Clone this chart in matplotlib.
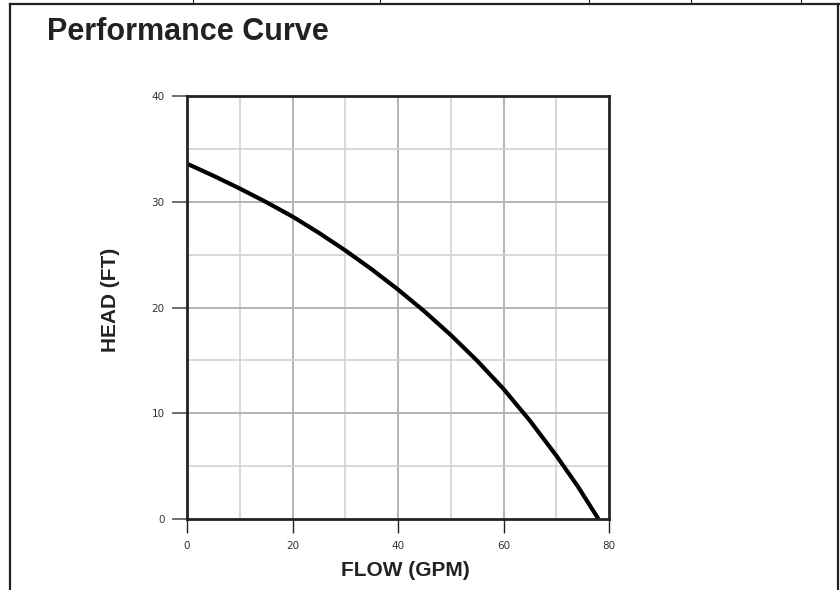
import matplotlib
matplotlib.use('Agg')
import matplotlib.pyplot as plt
from matplotlib.lines import Line2D

plt.rcParams['font.family'] = ['Liberation Sans', 'DejaVu Sans']

# Performance curve
flow_gpm = [0, 5, 10, 15, 20, 25, 30, 35, 40, 45, 50, 55, 60, 65, 70, 74, 78]
head_ft = [33.6, 32.46, 31.25, 29.97, 28.6, 27.06, 25.4, 23.62, 21.7, 19.64,
           17.4, 14.97, 12.3, 9.3, 6.0, 3.15, 0.0]

x_major = [0, 20, 40, 60, 80]
x_minor = [10, 30, 50, 70]
y_major = [0, 10, 20, 30, 40]
y_minor = [5, 15, 25, 35]

W, H = 840, 590
fig = plt.figure(figsize=(W / 100, H / 100), dpi=100)
ax = fig.add_axes([187 / W, 1 - 519 / H, (609 - 187) / W, (519 - 96) / H])

# grid first so the curve sits on top
for x in x_minor:
    ax.axvline(x, color='#d2d2d2', lw=1.2, zorder=1)
for x in x_major[1:-1]:
    ax.axvline(x, color='#b4b4b4', lw=1.4, zorder=1)
for y in y_minor:
    ax.axhline(y, color='#d2d2d2', lw=1.2, zorder=1)
for y in y_major[1:-1]:
    ax.axhline(y, color='#b4b4b4', lw=1.4, zorder=1)

ax.plot(flow_gpm, head_ft, color='black', lw=3.0, solid_capstyle='butt',
        solid_joinstyle='round', zorder=3)

ax.set_xlim(0, 80)
ax.set_ylim(0, 40)
ax.set_xticks(x_major)
ax.set_yticks(y_major)
ax.tick_params(axis='x', length=10, width=1, color='#222', pad=6,
               labelsize=7.5, labelcolor='#333')
ax.tick_params(axis='y', length=11, width=1.2, color='#555', pad=5,
               labelsize=7.5, labelcolor='#333')
for lab in ax.get_xticklabels() + ax.get_yticklabels():
    lab.set_fontfamily(['DejaVu Sans'])

for s in ax.spines.values():
    s.set_color('#222')
    s.set_linewidth(2.0)
    s.set_zorder(4)

# axis titles placed in figure pixels
fig.text(405 / W, 1 - 571 / H, 'FLOW (GPM)', fontsize=15, fontweight='bold',
         color='#222', ha='center', va='center')
fig.text(111 / W, 1 - 300 / H, 'HEAD (FT)', fontsize=15, fontweight='bold',
         color='#222', ha='center', va='center', rotation=90)

fig.text(47 / W, 1 - 40 / H, 'Performance Curve', fontsize=22, fontweight='bold',
         color='#222', ha='left', va='baseline')

# outer frame of the page
frame_kw = dict(color='#222', lw=1.6, transform=fig.transFigure)
fig.add_artist(Line2D([10 / W, 10 / W], [0, 1 - 4 / H], **frame_kw))
fig.add_artist(Line2D([10 / W, 1], [1 - 4 / H, 1 - 4 / H], **frame_kw))
fig.add_artist(Line2D([838 / W, 838 / W], [0, 1 - 4 / H], **frame_kw))
for xp in [193, 380, 589, 691, 801]:
    fig.add_artist(Line2D([xp / W, xp / W], [1 - 4 / H, 1], color='#222', lw=0.8,
                          transform=fig.transFigure))

fig.savefig('out.png', dpi=100)
